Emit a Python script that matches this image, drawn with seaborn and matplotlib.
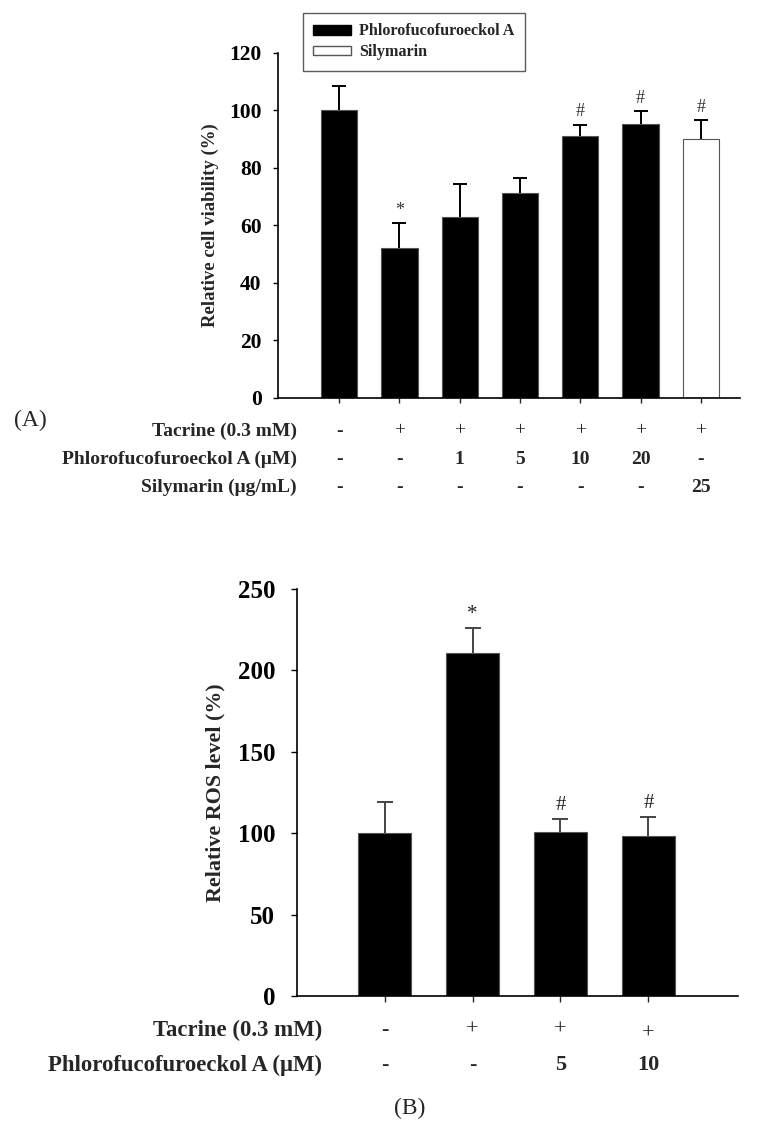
import matplotlib
matplotlib.use("Agg")
import matplotlib.pyplot as plt
import matplotlib.transforms as mtrans
from matplotlib.patches import Patch
import seaborn as sns
import pandas as pd
import numpy as np

sns.set_theme(style="white")
plt.rcParams['font.family'] = ['Liberation Serif', 'DejaVu Serif']

# ---------------- data ----------------
a_groups = ["Control", "Tacrine", "PFF 1", "PFF 5", "PFF 10", "PFF 20", "Silymarin 25"]
a_compound = ["Phlorofucofuroeckol A"] * 6 + ["Silymarin"]
a_viability = [100, 52, 62.8, 71.3, 91, 95.2, 90]
a_err = [8.5, 8.8, 11.7, 5.0, 4.0, 4.4, 6.6]
a_sig = ["", "*", "", "", "#", "#", "#"]
a_row_labels = ["Tacrine (0.3 mM)", "Phlorofucofuroeckol A (\u03bcM)", "Silymarin (\u03bcg/mL)"]
a_tacrine = ["-", "+", "+", "+", "+", "+", "+"]
a_pff = ["-", "-", "1", "5", "10", "20", "-"]
a_sily = ["-", "-", "-", "-", "-", "-", "25"]

b_groups = ["Control", "Tacrine", "PFF 5", "PFF 10"]
b_ros = [100, 210.5, 100.5, 98]
b_err = [19, 15.3, 8, 12]
b_sig = ["", "*", "#", "#"]
b_row_labels = ["Tacrine (0.3 mM)", "Phlorofucofuroeckol A (\u03bcM)"]
b_tacrine = ["-", "+", "+", "+"]
b_pff = ["-", "-", "5", "10"]

W, H = 780, 1129
fig = plt.figure(figsize=(W / 100, H / 100), dpi=100)
fx = lambda px: px / W
fy = lambda py: 1 - py / H

palette = {"Phlorofucofuroeckol A": "black", "Silymarin": "white"}


def style_axis(ax, labelsize, tlen, pad):
    for sp in ["top", "right"]:
        ax.spines[sp].set_visible(False)
    for sp in ["left", "bottom"]:
        ax.spines[sp].set_color("black")
        ax.spines[sp].set_linewidth(1.2)
    ax.tick_params(axis="y", direction="out", length=tlen, width=1, labelsize=labelsize,
                   pad=pad, left=True, colors="black")
    ax.tick_params(axis="x", direction="out", length=tlen, width=1, bottom=True)
    for t in ax.get_yticklabels():
        t.set_fontweight("bold")


def upper_errorbars(ax, x, vals, errs, color, capsize):
    _, caps, _ = ax.errorbar(x, vals, yerr=[np.zeros(len(errs)), errs], fmt="none",
                             ecolor=color, elinewidth=1.4, capsize=capsize,
                             capthick=1.4, zorder=1)
    caps[0].set_visible(False)


# ---------------- panel A ----------------
axA = fig.add_axes([fx(277.7), fy(398), fx(740) - fx(277.7), fy(52.7) - fy(398)])
dfA = pd.DataFrame({"group": a_groups, "value": a_viability, "compound": a_compound})
sns.barplot(data=dfA, x="group", y="value", hue="compound", palette=palette,
            order=a_groups, dodge=False, width=0.6, legend=False,
            edgecolor="#555555", linewidth=0.8, ax=axA, errorbar=None)
xa = np.arange(len(a_groups))
upper_errorbars(axA, xa, a_viability, a_err, "black", 5)
for x, v, e, s in zip(xa, a_viability, a_err, a_sig):
    if s:
        axA.annotate(s, (x, v + e), xytext=(0, 3), textcoords="offset points",
                     ha="center", va="bottom", fontsize=13, color="#333333")
axA.set_xlim(-1.02, 6.65)
axA.set_ylim(0, 120)
axA.set_yticks([0, 20, 40, 60, 80, 100, 120])
axA.set_xticks(xa)
axA.set_xticklabels([])
axA.set_xlabel("")
axA.set_ylabel("Relative cell viability (%)", fontsize=13.5, fontweight="bold", labelpad=7)
style_axis(axA, 15.5, 3.6, 8)

trA = mtrans.blended_transform_factory(axA.transData, fig.transFigure)
rowsA = [a_tacrine, a_pff, a_sily]
rowyA = [431, 459, 487]
for lab, vals, py in zip(a_row_labels, rowsA, rowyA):
    fig.text(fx(297), fy(py), lab, ha="right", va="center", fontsize=14, fontweight="bold")
    for x, v in zip(xa, vals):
        axA.text(x, fy(py), v, transform=trA, ha="center", va="center", fontsize=14,
                 fontweight="normal" if v == "+" else "bold")
fig.text(fx(30), fy(420), "(A)", ha="center", va="center", fontsize=17)

handles = [Patch(facecolor="black", edgecolor="black", label="Phlorofucofuroeckol A"),
           Patch(facecolor="white", edgecolor="#555555", label="Silymarin")]
leg = fig.legend(handles=handles, loc="upper left", bbox_to_anchor=(fx(303), fy(13)),
                 frameon=True, fancybox=False, edgecolor="#333333",
                 prop={"weight": "bold", "size": 11.6}, handlelength=2.3, handleheight=0.55,
                 handletextpad=0.55, borderpad=0.65, labelspacing=0.3, borderaxespad=0)
leg.get_frame().set_linewidth(1.0)

# ---------------- panel B ----------------
axB = fig.add_axes([fx(296.7), fy(996), fx(738) - fx(296.7), fy(589) - fy(996)])
dfB = pd.DataFrame({"group": b_groups, "value": b_ros})
sns.barplot(data=dfB, x="group", y="value", color="black", order=b_groups,
            width=0.6, edgecolor="#555555", linewidth=0.8, ax=axB, errorbar=None)
for p in axB.patches:
    p.set_facecolor("black")
xb = np.arange(len(b_groups))
upper_errorbars(axB, xb, b_ros, b_err, "#444444", 6)
for x, v, e, s in zip(xb, b_ros, b_err, b_sig):
    if s:
        axB.annotate(s, (x, v + e), xytext=(0, 3), textcoords="offset points",
                     ha="center", va="bottom", fontsize=15, color="#222222")
axB.set_xlim(-1.0, 4.02)
axB.set_ylim(0, 250)
axB.set_yticks([0, 50, 100, 150, 200, 250])
axB.set_xticks(xb)
axB.set_xticklabels([])
axB.set_xlabel("")
axB.set_ylabel("Relative ROS level (%)", fontsize=15.8, fontweight="bold", labelpad=9)
style_axis(axB, 18, 4, 11.5)

trB = mtrans.blended_transform_factory(axB.transData, fig.transFigure)
rowsB = [b_tacrine, b_pff]
rowyB = [1030, 1065]
for lab, vals, py in zip(b_row_labels, rowsB, rowyB):
    fig.text(fx(322), fy(py), lab, ha="right", va="center", fontsize=16.4, fontweight="bold")
    for x, v in zip(xb, vals):
        axB.text(x, fy(py + (4 if (v == "+" and x == 3) else 0)), v, transform=trB,
                 ha="center", va="center", fontsize=16,
                 fontweight="normal" if v == "+" else "bold")
fig.text(fx(410), fy(1108), "(B)", ha="center", va="center", fontsize=17)

fig.savefig("out.png", dpi=100, facecolor="white")
